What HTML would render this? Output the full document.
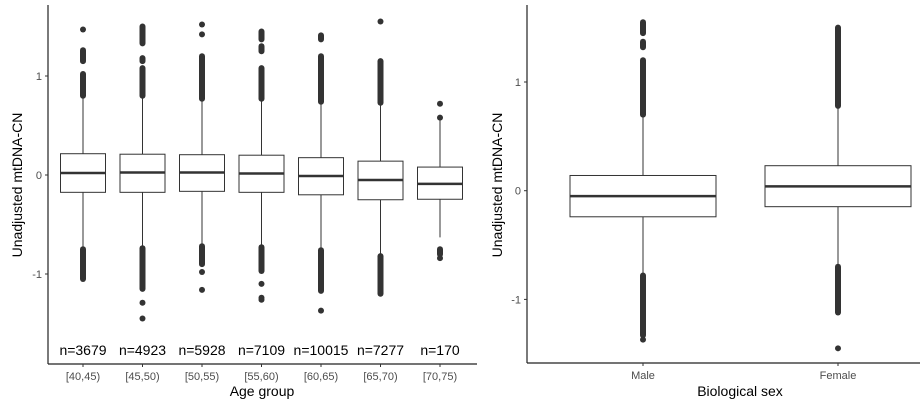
<!DOCTYPE html>
<html><head><meta charset="utf-8"><style>
body{margin:0;background:#fff;width:922px;height:408px;overflow:hidden}
svg{display:block;font-family:"Liberation Sans",sans-serif}
</style></head><body>
<svg id="chart" width="922" height="408"></svg>
<script>
const ageCats=["[40,45)","[45,50)","[50,55)","[55,60)","[60,65)","[65,70)","[70,75)"];
const ageN=["n=3679","n=4923","n=5928","n=7109","n=10015","n=7277","n=170"];
const ageQ1=[-0.175,-0.175,-0.165,-0.175,-0.2,-0.25,-0.245];
const ageMed=[0.02,0.025,0.025,0.015,-0.01,-0.05,-0.09];
const ageQ3=[0.215,0.21,0.205,0.2,0.175,0.14,0.08];
const ageWLo=[-0.74,-0.74,-0.72,-0.73,-0.76,-0.82,-0.63];
const ageWHi=[0.79,0.78,0.76,0.76,0.73,0.72,0.57];
const ageRuns=[
 [[0.8,1.02],[1.15,1.26],[-0.75,-1.05]],
 [[0.8,1.08],[1.15,1.18],[1.33,1.5],[-0.74,-1.15]],
 [[0.77,1.2],[-0.72,-0.9]],
 [[0.77,1.08],[1.25,1.3],[1.37,1.45],[-0.73,-0.97]],
 [[0.74,1.2],[1.37,1.41],[-0.76,-1.17]],
 [[0.73,1.15],[-0.82,-1.2]],
 [[-0.75,-0.8]]];
const agePts=[[1.47],[-1.29,-1.45],[1.42,1.52,-0.98,-1.16],[-1.1,-1.24,-1.26],[-1.37],[1.55],[0.58,0.72,-0.84]];
const ageTicks=[1,0,-1];
const sexCats=["Male","Female"];
const sexQ1=[-0.24,-0.147];
const sexMed=[-0.05,0.04];
const sexQ3=[0.14,0.23];
const sexWLo=[-0.78,-0.69];
const sexWHi=[0.69,0.77];
const sexRuns=[[[0.7,1.2],[1.32,1.37],[1.45,1.55],[-0.78,-1.33]],[[0.78,1.5],[-0.7,-1.12]]];
const sexPts=[[-1.37],[-1.45]];
const sexTicks=[1,0,-1];

const svg=document.getElementById('chart');
const NS="http://www.w3.org/2000/svg";
function mk(tag,attrs,parent){const e=document.createElementNS(NS,tag);for(const k in attrs)e.setAttribute(k,attrs[k]);(parent||svg).appendChild(e);return e;}
function txt(s,attrs){const t=mk('text',attrs);t.textContent=s;return t;}

function panel(p){
  const g=mk('g',{});
  
  
  const y=v=>p.y0-v*p.ppu;
  const x=i=>p.x0+i*p.dx;
  // axes
  const ya=mk('line',{x1:p.ax,y1:5,x2:p.ax,y2:p.ab,stroke:'#222','stroke-width':1.2},g);
  
  const xa=mk('line',{x1:p.ax,y1:p.ab,x2:p.axEnd,y2:p.ab,stroke:'#222','stroke-width':1.2},g);
  
  p.ticks.forEach(t=>{
    mk('line',{x1:p.ax-3,x2:p.ax,y1:y(t),y2:y(t),stroke:'#333'},g);
    const l=txt(String(t).replace('-','-'),{x:p.ax-6,y:y(t)+4,'text-anchor':'end','font-size':11,fill:'#4d4d4d'});
    
  });
  p.cats.forEach((c,i)=>{
    const cx=x(i);
    mk('line',{x1:cx,x2:cx,y1:p.ab,y2:p.ab+3,stroke:'#333'},g);
    const l=txt(c,{x:cx,y:p.ab+16,'text-anchor':'middle','font-size':11,fill:'#4d4d4d'});
    
    const w1=mk('line',{x1:cx,x2:cx,y1:y(p.q3[i]),y2:y(p.whi[i]),stroke:'#333','stroke-width':1},g);
    
    const w2=mk('line',{x1:cx,x2:cx,y1:y(p.q1[i]),y2:y(p.wlo[i]),stroke:'#333','stroke-width':1},g);
    
    const b=mk('rect',{x:cx-p.hw,y:y(p.q3[i]),width:2*p.hw,height:y(p.q1[i])-y(p.q3[i]),fill:'#fff',stroke:'#333','stroke-width':1},g);
    
    const m=mk('line',{x1:cx-p.hw,x2:cx+p.hw,y1:y(p.med[i]),y2:y(p.med[i]),stroke:'#333','stroke-width':2.5},g);
    
    p.runs[i].forEach(r=>{
      const o=mk('line',{x1:cx,x2:cx,y1:y(r[0]),y2:y(r[1]),stroke:'#333','stroke-width':6,'stroke-linecap':'round'},g);
      
    });
    p.pts[i].forEach(v=>{
      const o=mk('circle',{cx:cx,cy:y(v),r:3,fill:'#333'},g);
      
    });
    if(p.n){const n=txt(p.n[i],{x:cx,y:355,'text-anchor':'middle','font-size':14,fill:'#000'});
      }
  });
  const xt=txt(p.xtitle,{x:p.xtx,y:396,'text-anchor':'middle','font-size':14,fill:'#000'});
  
  const yt=txt('Unadjusted mtDNA-CN',{x:0,y:0,'text-anchor':'middle','font-size':14,fill:'#000',transform:`translate(${p.ytx},${p.yty}) rotate(-90)`});
  
}
panel({name:'age-panel',ax:48,axEnd:477,ab:364,y0:175,ppu:99,x0:83,dx:59.5,hw:22.5,
  cats:ageCats,n:ageN,q1:ageQ1,med:ageMed,q3:ageQ3,wlo:ageWLo,whi:ageWHi,runs:ageRuns,pts:agePts,ticks:ageTicks,
  xtitle:'Age group',xtx:262,ytx:22,yty:185});
panel({name:'sex-panel',ax:527,axEnd:920,ab:363,y0:190.7,ppu:108.7,x0:643,dx:195,hw:73,
  cats:sexCats,n:null,q1:sexQ1,med:sexMed,q3:sexQ3,wlo:sexWLo,whi:sexWHi,runs:sexRuns,pts:sexPts,ticks:sexTicks,
  xtitle:'Biological sex',xtx:740,ytx:502,yty:185});
</script>
</body></html>
